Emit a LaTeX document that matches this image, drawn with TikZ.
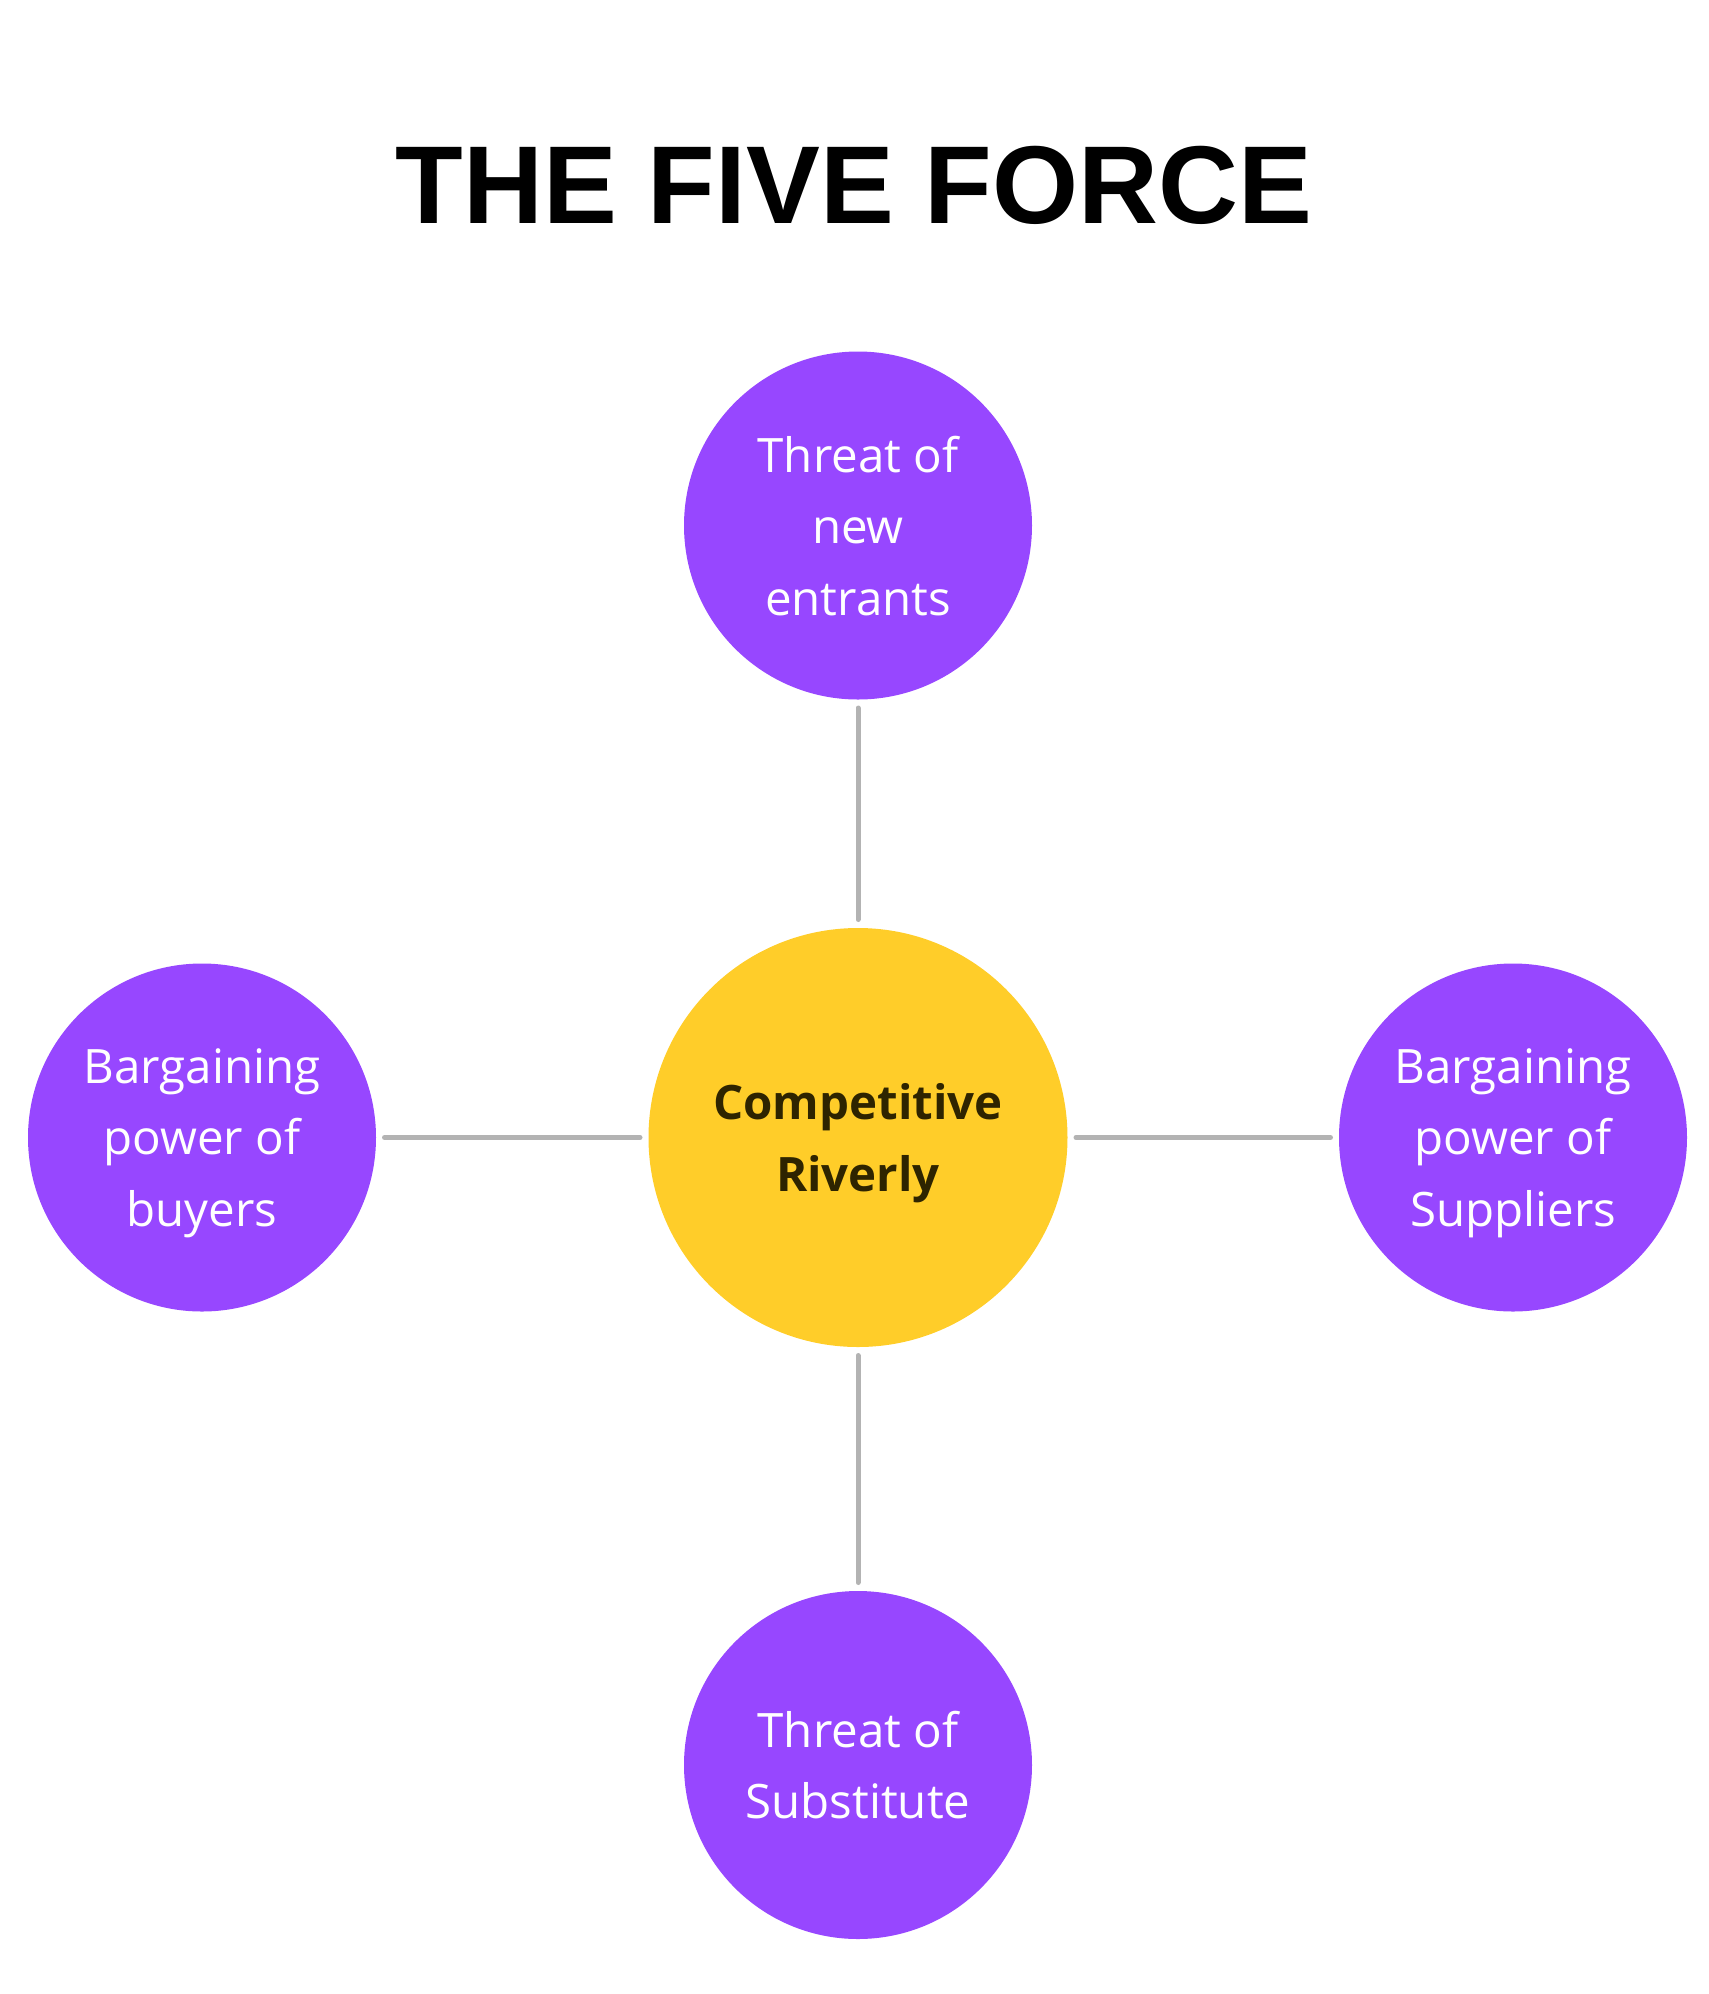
\documentclass[tikz,border=0pt]{standalone}
\usepackage{fontspec}
\newfontfamily\titlefont{Liberation Sans}
\newfontfamily\labelfont{Open Sans}
\definecolor{forcepurple}{HTML}{9747FF}
\definecolor{rivalyellow}{HTML}{FFCD29}
\definecolor{rivaltext}{HTML}{2E2400}
\definecolor{linkgray}{HTML}{B3B3B3}
\tikzset{
  force/.style={circle, fill=forcepurple, minimum size=3.48cm, inner sep=0pt, outer sep=0pt,
    text=white, align=center, text depth=0pt, font=\labelfont\fontsize{13.5}{20.3}\selectfont},
  rival/.style={circle, fill=rivalyellow, minimum size=4.19cm, inner sep=0pt, outer sep=0pt,
    text=rivaltext, align=center, text depth=0pt, font=\labelfont\bfseries\fontsize{13.5}{20.3}\selectfont},
  link/.style={draw=linkgray, line width=0.05cm, line cap=round,
    shorten <=0.085cm, shorten >=0.085cm}
}
\begin{document}
\begin{tikzpicture}
  \useasboundingbox (0,0) rectangle (17.08,-19.94);
  \node[font=\titlefont\bfseries\fontsize{31.5}{36}\selectfont] (title) at (8.54,-1.85) {THE FIVE FORCE};
  \node[rival] (core) at (8.58,-11.375) {Competitive\\Riverly};
  \foreach \name/\x/\y/\txt in {entrants/8.58/-5.255/{Threat of\\new\\entrants},
      buyers/2.02/-11.375/{Bargaining\\power of\\buyers},
      suppliers/15.13/-11.375/{Bargaining\\power of\\Suppliers},
      substitute/8.58/-17.65/{Threat of\\Substitute}} {
    \node[force] (\name) at (\x,\y) {\txt};
    \draw[link] (\name) -- (core);
  }
\end{tikzpicture}
\end{document}
